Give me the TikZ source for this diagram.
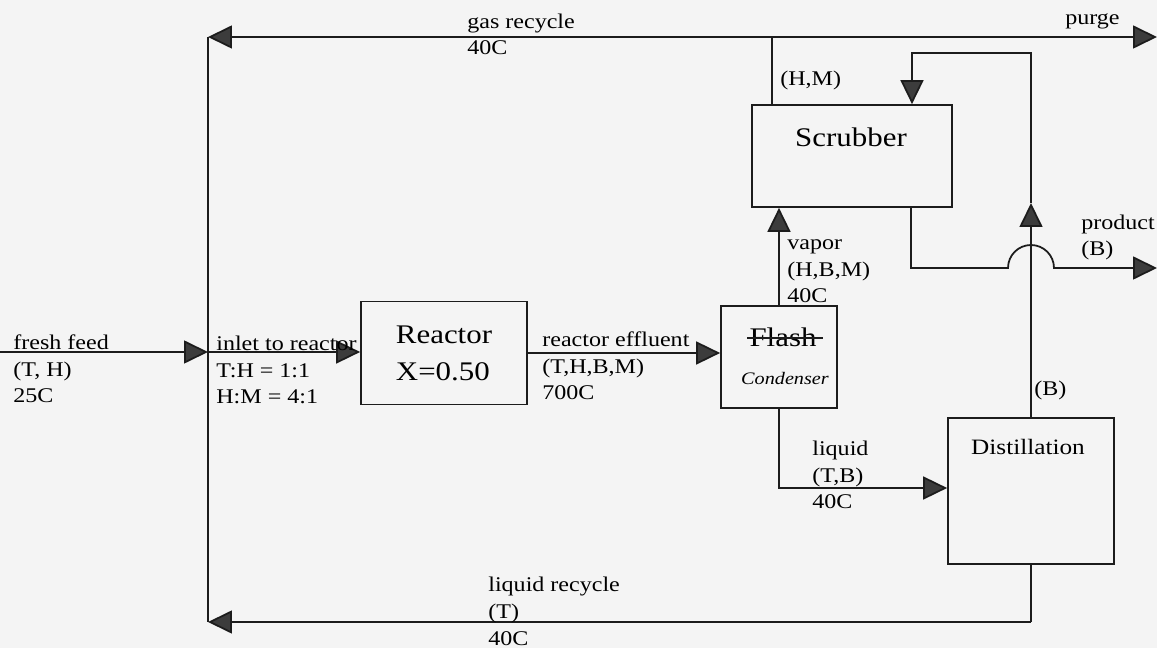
\documentclass[tikz,border=0pt]{standalone}
\usepackage{fontspec}
\setmainfont[FakeStretch=1.15]{Liberation Serif}
\usetikzlibrary{arrows.meta,calc}
\definecolor{paper}{HTML}{F4F4F4}
\definecolor{ink}{HTML}{1C1C1C}
\definecolor{tipgray}{HTML}{3C3C3C}
\tikzset{
  unit/.style={draw=ink, line width=1pt, inner sep=0pt},
  pipe/.style={draw=ink, line width=1pt},
  flow/.style={pipe, -{Triangle[length=0.48cm, width=0.46cm, fill=tipgray]}},
  lbl/.style={anchor=base west, inner sep=0pt, align=left, font=\fontsize{11.9}{15.3}\selectfont},
  big/.style={font=\fontsize{15.3}{21}\selectfont},
}
\begin{document}
\begin{tikzpicture}[x=0.02cm, y=-0.02cm]
        \fill[paper] (0,0) rectangle (1157,648);
        \useasboundingbox (0,0) rectangle (1157,648);

        % process units
        \node[unit, big, align=left, minimum width=3.32cm, minimum height=2.06cm] (reactor) at (444,353) {Reactor\\X=0.50};
        \node[unit, minimum width=4cm, minimum height=2.04cm] (scrubber) at (852,156) {};
        \node[unit, minimum width=2.32cm, minimum height=2.04cm] (flash) at (779,357) {};
        \node[unit, minimum width=3.32cm, minimum height=2.92cm] (distil) at (1031,491) {};

        \node[big, anchor=base, inner sep=0pt] (scrubtxt) at (851,147) {Scrubber};
        \node[big, anchor=base, inner sep=0pt] (flashtxt) at (783,347) {Flash};
        \node[font=\fontsize{10}{12}\selectfont\itshape, inner sep=0pt] (condtxt) at (785,378) {Condenser};
        \node[font=\fontsize{12.5}{15}\selectfont, anchor=base, inner sep=0pt] (distiltxt) at (1028,455) {Distillation};
        \draw[pipe, line width=0.8pt] ($(flashtxt.west)+(-2,0)$) -- ($(flashtxt.east)+(6,0)$);

        % bends and free ends
        \coordinate (feedin) at (0,352);
        \coordinate (mixer) at (208,352);
        \coordinate (topleft) at (208,37);
        \coordinate (botleft) at (208,622);
        \coordinate (hmtop) at (772,37);
        \coordinate (purgeout) at (1157,37);
        \coordinate (retcorner) at (1031,53);
        \coordinate (retleft) at (912,53);
        \coordinate (upmid) at (1031,203);
        \coordinate (prodbend) at (911,268);
        \coordinate (jumpin) at (1008,268);
        \coordinate (prodout) at (1157,268);
        \coordinate (liqbend) at (779,488);
        \coordinate (reccorner) at (1031,622);

        % streams
        \draw[flow] (feedin) -- (mixer);
        \draw[flow] (mixer) -- (reactor.west |- mixer);
        \draw[flow] (reactor.east) -- (flash.west |- reactor.east);
        \draw[flow] (flash.north) -- (flash.north |- scrubber.south);
        \draw[pipe] (scrubber.north -| hmtop) -- (hmtop);
        \draw[flow] (hmtop) -- (topleft);
        \draw[flow] (hmtop) -- (purgeout);
        \draw[pipe] (topleft) -- (botleft);
        \draw[pipe] (distil.south) -- (reccorner);
        \draw[flow] (reccorner) -- (botleft);
        \draw[flow] (flash.south) -- (liqbend) -- (distil.west |- liqbend);
        \draw[flow] (distil.north) -- (upmid);
        \draw[flow] (upmid) -- (retcorner) -- (retleft) -- (retleft |- scrubber.north);
        \draw[flow] (scrubber.south -| prodbend) -- (prodbend) -- (jumpin) arc[start angle=180, end angle=0, radius=0.46cm] -- (prodout);

        % stream labels (base = last line)
        \node[lbl] (gaslbl) at (467,55) {gas recycle\\40C};
        \node[lbl] (purgelbl) at (1065,25) {purge};
        \node[lbl] (hmlbl) at (780,86) {(H,M)};
        \node[lbl] (vaporlbl) at (787,303) {vapor\\(H,B,M)\\40C};
        \node[lbl] (prodlbl) at (1081,256) {product\\(B)};
        \node[lbl] (blbl) at (1034,396) {(B)};
        \node[lbl] (efflbl) at (542,400) {reactor effluent\\(T,H,B,M)\\700C};
        \node[lbl] (feedlbl) at (13,403) {fresh feed\\(T, H)\\25C};
        \node[lbl] (inletlbl) at (216,404) {inlet to reactor\\T:H = 1:1\\H:M = 4:1};
        \node[lbl] (liqlbl) at (812,509) {liquid\\(T,B)\\40C};
        \node[lbl] (reclbl) at (488,645) {liquid recycle\\(T)\\40C};
\end{tikzpicture}
\end{document}
